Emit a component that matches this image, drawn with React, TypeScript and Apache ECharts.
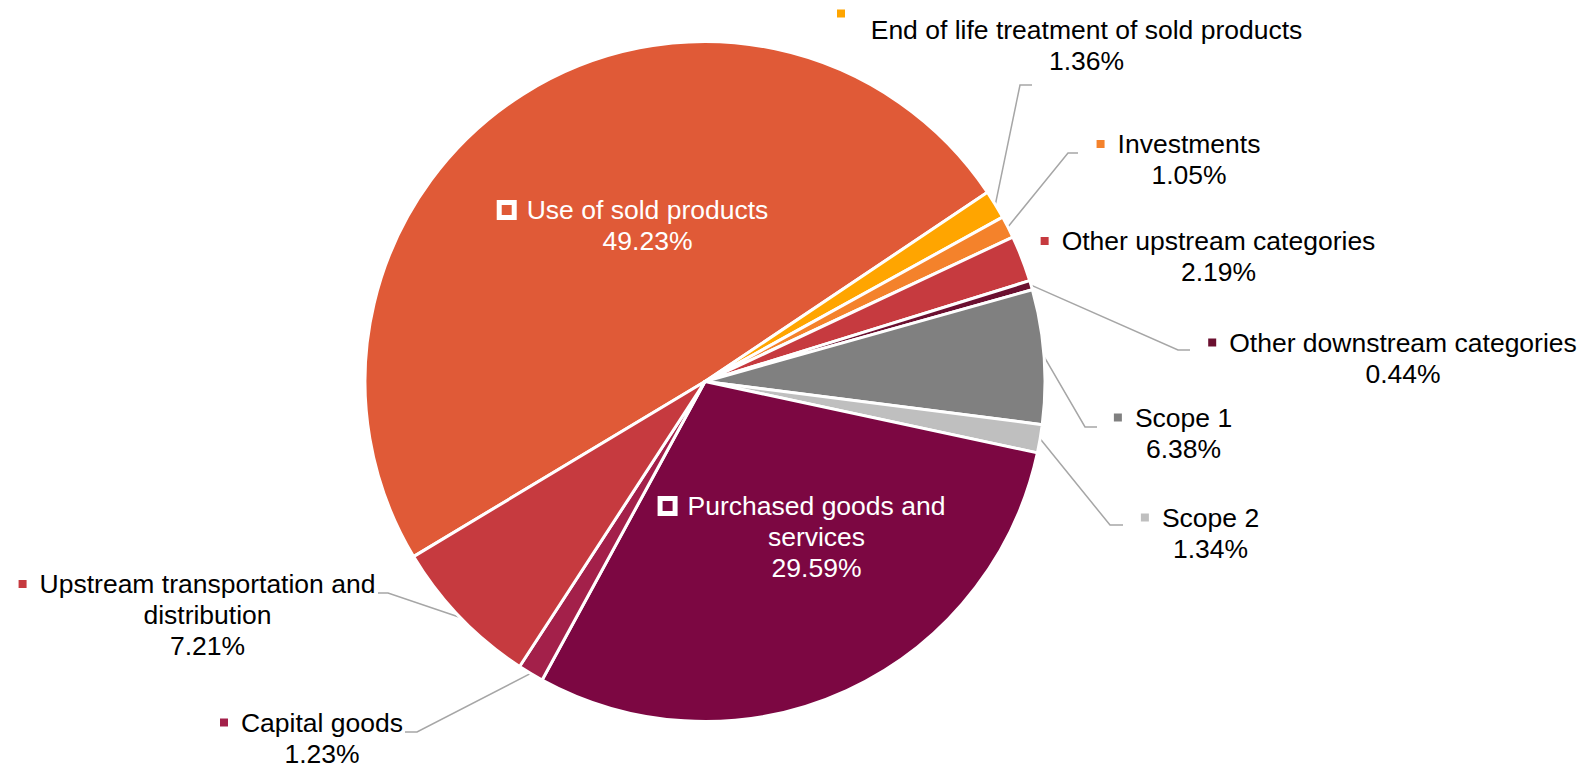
import { useEffect, useRef } from 'react';
import * as echarts from 'echarts';

// ---- data ----
const categories = [
  'Use of sold products',
  'End of life treatment of sold products',
  'Investments',
  'Other upstream categories',
  'Other downstream categories',
  'Scope 1',
  'Scope 2',
  'Purchased goods and services',
  'Capital goods',
  'Upstream transportation and distribution',
];
const shares = [49.23, 1.36, 1.05, 2.19, 0.44, 6.38, 1.34, 29.59, 1.23, 7.21];
const colors = ['#E05A37', '#FFA500', '#F4822B', '#C63A3F', '#6B1030', '#808080', '#BFBFBF', '#7C0742', '#A3204A', '#C63A3F'];

// ---- layout (not data) ----
const CX = 705;
const CY = 381.5;
const R = 340;
const START_ANGLE = 211;
const FONT = 'Arial, "Liberation Sans", sans-serif';
const FS = 26.5;
const LH = 31;
const TOP_LH = 2;

type Placement = { cx: number; cy: number; inside?: boolean; markerAbove?: boolean; guide?: number[][] };
const placement: Record<string, Placement> = {
  'Use of sold products': { cx: 647.5, cy: 210, inside: true },
  'End of life treatment of sold products': { cx: 1086.5, cy: 30, markerAbove: true, guide: [[1020, 85], [1032, 85]] },
  'Investments': { cx: 1189, cy: 144, guide: [[1068, 153], [1078, 153]] },
  'Other upstream categories': { cx: 1218.5, cy: 241 },
  'Other downstream categories': { cx: 1403, cy: 342.5, guide: [[1178, 350], [1190, 350]] },
  'Scope 1': { cx: 1183.5, cy: 417.5, guide: [[1085, 427], [1097, 427]] },
  'Scope 2': { cx: 1210.5, cy: 517.5, guide: [[1110, 525], [1123, 525]] },
  'Purchased goods and services': { cx: 816.5, cy: 506, inside: true },
  'Capital goods': { cx: 322, cy: 722.5, guide: [[417, 732], [405, 732]] },
  'Upstream transportation and distribution': { cx: 207.5, cy: 584, guide: [[388, 593], [378, 593]] },
};

function sliceEdgePoint(i: number): number[] {
  const total = shares.reduce((a, b) => a + b, 0);
  let acc = 0;
  for (let k = 0; k < i; k++) acc += shares[k];
  const mid = acc + shares[i] / 2;
  const ang = ((START_ANGLE - (mid / total) * 360) * Math.PI) / 180;
  return [CX + R * Math.cos(ang), CY - R * Math.sin(ang)];
}

function labelText(i: number): string {
  const name = categories[i];
  const p = placement[name];
  const lines = name.replace(' and ', ' and\n').split('\n');
  const pct = shares[i].toFixed(2) + '%';
  if (p.inside) {
    const first = `{mi${i}|}{gi|}{tw|${lines[0]}}{pi|}`;
    return [first, ...lines.slice(1).map((l) => `{tw|${l}}`), `{tw|${pct}}`].join('\n');
  }
  if (p.markerAbove) {
    return [`{mt${i}|}{sp|}`, ...lines.map((l) => `{t|${l}}`), `{t|${pct}}`].join('\n');
  }
  const first = `{m${i}|}{g|}{t|${lines[0]}}{p|}`;
  return [first, ...lines.slice(1).map((l) => `{t|${l}}`), `{t|${pct}}`].join('\n');
}

function buildRich() {
  const rich: Record<string, any> = {
    t: { fontSize: FS, lineHeight: LH, color: '#000000', fontFamily: FONT },
    tw: { fontSize: FS, lineHeight: LH, color: '#FFFFFF', fontFamily: FONT },
    g: { width: 13, height: 8, lineHeight: LH },
    p: { width: 21, height: 8, lineHeight: LH },
    gi: { width: 15, height: 8, lineHeight: LH },
    pi: { width: 25, height: 8, lineHeight: LH },
    sp: { width: 491, height: 1, lineHeight: TOP_LH },
  };
  categories.forEach((_, i) => {
    rich['m' + i] = { width: 8, height: 8, lineHeight: LH, backgroundColor: colors[i] };
    rich['mt' + i] = { width: 8, height: 8, lineHeight: TOP_LH, backgroundColor: colors[i] };
    rich['mi' + i] = { width: 10, height: 10, lineHeight: LH, backgroundColor: colors[i], borderColor: '#FFFFFF', borderWidth: 5 };
  });
  return rich;
}

export default function App() {
  const ref = useRef<HTMLDivElement>(null);
  useEffect(() => {
    if (!ref.current) return;
    const chart = echarts.init(ref.current, null, { renderer: 'svg' });
    const rich = buildRich();
    chart.setOption({
      animation: false,
      backgroundColor: '#FFFFFF',
      series: [
        {
          type: 'pie',
          center: [CX, CY],
          radius: R,
          startAngle: START_ANGLE,
          clockwise: true,
          avoidLabelOverlap: false,
          emphasis: { disabled: true },
          itemStyle: { borderColor: '#FFFFFF', borderWidth: 3 },
          label: {
            show: true,
            position: 'outside',
            fontFamily: FONT,
            fontSize: FS,
            lineHeight: LH,
            color: '#000000',
            rich,
          },
          labelLine: { show: true, smooth: false, lineStyle: { color: '#A6A6A6', width: 1.5 } },
          labelLayout: (params: any) => {
            const name = categories[params.dataIndex];
            const pl = placement[name];
            const top = pl.cy - LH / 2 - (pl.markerAbove ? TOP_LH : 0);
            const res: any = { x: pl.cx, y: top, align: 'center', verticalAlign: 'top' };
            if (pl.guide) {
              res.labelLinePoints = [sliceEdgePoint(params.dataIndex), ...pl.guide];
            }
            return res;
          },
          data: categories.map((name, i) => ({
            name,
            value: shares[i],
            itemStyle: { color: colors[i] },
            label: { formatter: labelText(i) },
            labelLine: { show: !!placement[name].guide },
          })),
        },
      ],
    });
    return () => chart.dispose();
  }, []);
  return <div ref={ref} style={{ position: 'fixed', left: 0, top: 0, width: 1595, height: 769 }} />;
}
